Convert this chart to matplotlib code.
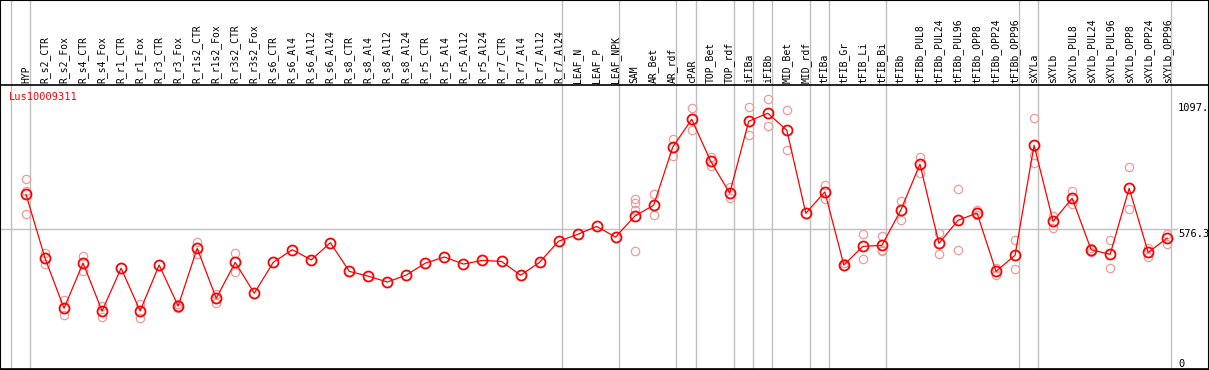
import numpy as np
import matplotlib
matplotlib.use("Agg")
import matplotlib.pyplot as plt
from matplotlib.patches import Rectangle

# Données
samples = ["HYP", "R_s2_CTR", "R_s2_Fox", "R_s4_CTR", "R_s4_Fox", "R_r1_CTR", "R_r1_Fox",
           "R_r3_CTR", "R_r3_Fox", "R_r1s2_CTR", "R_r1s2_Fox", "R_r3s2_CTR", "R_r3s2_Fox",
           "R_s6_CTR", "R_s6_Al4", "R_s6_Al12", "R_s6_Al24", "R_s8_CTR", "R_s8_Al4",
           "R_s8_Al12", "R_s8_Al24", "R_r5_CTR", "R_r5_Al4", "R_r5_Al12", "R_r5_Al24",
           "R_r7_CTR", "R_r7_Al4", "R_r7_Al12", "R_r7_Al24", "LEAF_N", "LEAF_P", "LEAF_NPK",
           "SAM", "AR_Bet", "AR_rdf", "cPAR", "TOP_Bet", "TOP_rdf", "iFIBa", "iFIBb",
           "MID_Bet", "MID_rdf", "tFIBa", "tFIB_Gr", "tFIB_Li", "tFIB_Bi", "tFIBb",
           "tFIBb_PUL8", "tFIBb_PUL24", "tFIBb_PUL96", "tFIBb_OPP8", "tFIBb_OPP24",
           "tFIBb_OPP96", "sXYLa", "sXYLb", "sXYLb_PUL8", "sXYLb_PUL24", "sXYLb_PUL96",
           "sXYLb_OPP8", "sXYLb_OPP24", "sXYLb_OPP96"]

means = [719, 456, 250, 436, 239, 415, 239, 428, 259, 497, 291, 439, 312,
         439, 491, 449, 520, 402, 382, 358, 387, 436, 461, 432, 447, 443, 386, 439, 526,
         554, 587, 543, 629, 674, 913, 1028, 855, 724, 1020, 1053, 983, 641,
         729, 428, 505, 509, 655, 843, 517, 612, 642, 402, 468,
         921, 608, 703, 491, 472, 744, 480, 539]

replicates = [[781, 733, 637], [476, 432], [283, 222], [465, 403], [259, 215], [415],
              [266, 211], [428], [266, 252], [523, 472], [310, 273], [476, 398], [312],
              [439], [491], [449], [520], [402], [382], [358], [387], [436], [461], [432],
              [447], [443], [386], [439], [526], [554], [587], [543],
              [699, 682, 655, 485], [719, 633], [946, 877], [1073, 983], [873, 837],
              [749, 703], [1077, 962], [1111, 999], [1065, 900], [641],
              [756, 699], [435, 424], [554, 452], [546, 490, 487], [690, 615],
              [873, 808], [559, 475], [740, 489], [655, 634], [415, 388], [530, 410],
              [1032, 880, 847], [630, 582], [733, 678], [499, 483], [530, 415],
              [830, 657], [499, 462], [557, 516]]

# séparations de groupes (après l'indice)
group_ends = [-1, 0, 28, 31, 34, 35, 37, 38, 39, 41, 42, 45, 52, 53, 60]

gene = "Lus10009311"
y_marks = [1097, 576.3, 0]
y_mark_labels = ["1097.", "576.3", "0"]

W, H = 1209, 370
fig = plt.figure(figsize=(W / 100, H / 100), dpi=100)

# zone du graphe en pixels
top_px, bot_px = 85, 369
ax_h = bot_px - top_px
ax = fig.add_axes([0, (H - bot_px) / H, 1, ax_h / H])

x0, dx = 26, 19.02   # position en pixels de la première colonne, pas
v_per_px = 4.1165    # valeur par pixel vertical
ax.set_xlim((0 - x0) / dx, (W - x0) / dx)
ax.set_ylim(0, ax_h * v_per_px)

mono = "DejaVu Sans Mono"
grid_c = "#c0c0c0"

# lignes verticales de groupe (sur toute la hauteur)
for g in group_ends:
    ax.axvline(g + 0.2, ymin=-(H - bot_px) / ax_h, ymax=bot_px / ax_h,
               color=grid_c, lw=1.0, clip_on=False, zorder=1)

# ligne horizontale de la médiane
x_end = (1177 - x0) / dx
ax.plot([ax.get_xlim()[0], x_end], [576.3, 576.3], color=grid_c, lw=1.0, zorder=1)

xs = np.arange(len(samples))
for i, reps in enumerate(replicates):
    if len(reps) > 1:
        ax.plot([i] * len(reps), reps, "o", ms=6, mfc="none", mec="#f09a9a", mew=0.9, zorder=2)

ax.plot(xs, means, "-", color="red", lw=0.9, zorder=3)
ax.plot(xs, means, "o", ms=7.2, mfc="none", mec="red", mew=1.3, zorder=4)

# étiquettes des échantillons
for i, s in enumerate(samples):
    ax.text(i, 1 + 2 / ax_h, s, rotation=90, ha="center", va="bottom",
            transform=ax.get_xaxis_transform(), family=mono, fontsize=7, clip_on=False)

ax.text(9 / W, 1 - 12 / ax_h, gene, transform=ax.transAxes, color="red",
        family=mono, fontsize=7.5, va="center", ha="left")

# valeurs à droite (légèrement sous leur niveau, "0" remonté)
for v, lab in zip(y_marks, y_mark_labels):
    ypos = v - 5 * v_per_px if v > 0 else 22
    ax.text(1178 / W, ypos, lab, transform=ax.get_yaxis_transform(),
            family=mono, fontsize=7.5, va="center", ha="left")

ax.set_xticks([])
ax.set_yticks([])
for sp in ax.spines.values():
    sp.set_color("black")
    sp.set_linewidth(1.2)

fig.patches.append(Rectangle((0, 0), 1, 1, transform=fig.transFigure, fill=False,
                             edgecolor="black", lw=1.5))

fig.savefig("out.png", dpi=100)
